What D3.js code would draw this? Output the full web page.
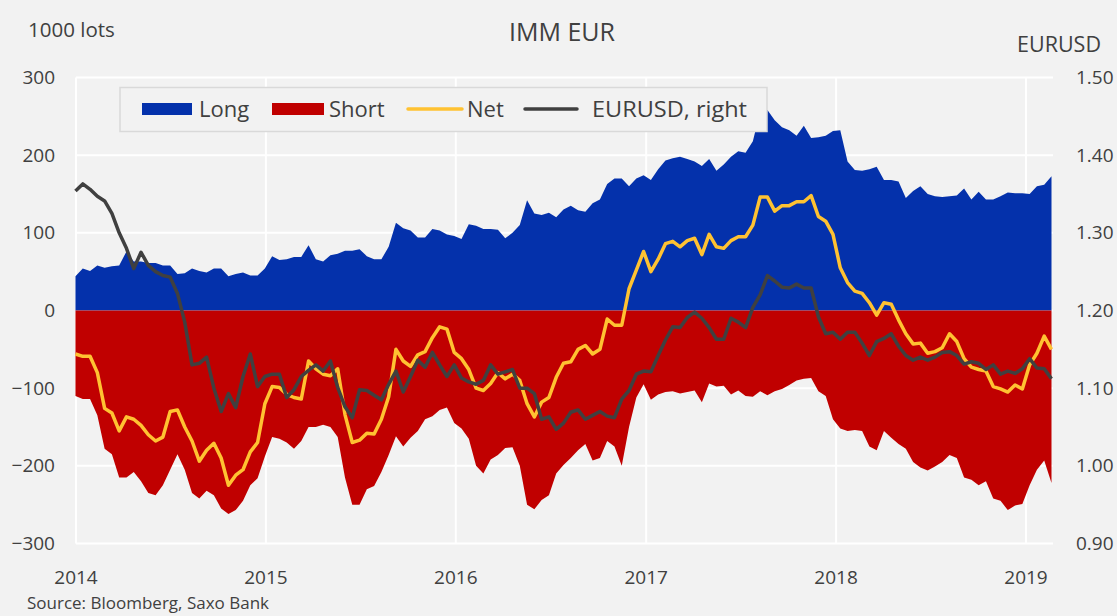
<!DOCTYPE html>
<html>
<head>
<meta charset="utf-8">
<script src="https://cdn.jsdelivr.net/npm/d3@7/dist/d3.min.js"></script>
<style>
  html, body { margin: 0; padding: 0; background: #f2f2f2; }
  svg { display: block; }
  text { font-family: "Open Sans", "Noto Sans", sans-serif; fill: #404040; }
</style>
</head>
<body>
<svg id="chart" width="1117" height="616"></svg>
<script>
// ---- data (biweekly COT observations, 1000 lots) ----
const startDate = "2013-12-31";
const stepDays = 14;

const longPos = [44,54,51,58,55,57,58,76,63,63,61,61,58,58,47,48,54,51,49,54,54,44,47,49,45,45,54,70,65,66,69,69,84,66,63,71,73,77,77,79,70,66,66,82,113,106,103,94,94,105,103,98,96,92,111,109,105,105,104,93,100,110,142,125,123,126,120,130,135,129,127,138,143,163,170,170,160,170,174,168,182,193,196,198,195,192,186,195,180,188,198,205,203,218,256,258,245,236,232,225,238,222,223,225,231,232,192,181,180,182,185,168,168,166,145,154,160,150,147,146,147,148,157,143,153,143,143,147,152,151,151,150,160,162,173];

const shortPos = [-110,-114,-114,-135,-178,-185,-215,-215,-208,-220,-235,-238,-225,-205,-185,-205,-235,-242,-232,-238,-255,-262,-257,-245,-225,-216,-188,-163,-165,-170,-178,-168,-150,-150,-147,-150,-163,-215,-250,-250,-230,-226,-208,-186,-162,-175,-164,-155,-140,-136,-128,-125,-145,-152,-165,-200,-210,-192,-186,-177,-176,-200,-250,-256,-244,-238,-210,-199,-190,-180,-172,-193,-190,-168,-175,-200,-150,-112,-95,-115,-108,-105,-104,-107,-105,-103,-118,-94,-98,-97,-108,-103,-110,-111,-104,-109,-104,-101,-96,-90,-88,-87,-104,-110,-140,-152,-155,-154,-155,-175,-180,-155,-164,-172,-178,-195,-202,-206,-201,-195,-186,-190,-215,-218,-225,-220,-242,-245,-257,-251,-249,-225,-205,-193,-222];

const netPos = [-56,-59,-59,-80,-126,-132,-155,-137,-140,-148,-160,-168,-163,-130,-128,-150,-168,-194,-180,-171,-190,-225,-212,-205,-182,-170,-120,-98,-99,-108,-112,-114,-65,-75,-82,-84,-75,-134,-170,-167,-158,-159,-140,-111,-50,-65,-72,-57,-53,-35,-21,-24,-54,-62,-76,-100,-103,-94,-80,-88,-82,-90,-120,-137,-118,-112,-86,-68,-66,-50,-45,-56,-50,-11,-19,-19,28,52,76,50,66,86,89,82,90,93,72,98,82,80,90,95,95,110,146,146,128,135,135,140,140,148,121,115,98,55,36,25,22,10,-6,10,8,-12,-30,-43,-42,-55,-53,-48,-30,-40,-62,-73,-76,-78,-98,-101,-105,-96,-101,-70,-55,-33,-50];

const eurusd = [1.354,1.363,1.356,1.347,1.341,1.325,1.300,1.280,1.254,1.275,1.258,1.250,1.245,1.243,1.222,1.185,1.130,1.132,1.140,1.100,1.070,1.093,1.075,1.115,1.144,1.102,1.115,1.118,1.118,1.088,1.098,1.115,1.123,1.130,1.122,1.135,1.101,1.076,1.062,1.098,1.097,1.091,1.085,1.105,1.122,1.095,1.115,1.136,1.127,1.146,1.130,1.115,1.130,1.113,1.108,1.105,1.110,1.130,1.118,1.121,1.124,1.100,1.100,1.093,1.060,1.063,1.047,1.055,1.069,1.072,1.060,1.065,1.070,1.064,1.062,1.086,1.097,1.118,1.122,1.121,1.142,1.162,1.179,1.178,1.191,1.198,1.190,1.178,1.163,1.163,1.190,1.185,1.178,1.204,1.220,1.245,1.238,1.230,1.229,1.234,1.229,1.229,1.192,1.170,1.172,1.163,1.172,1.172,1.158,1.142,1.160,1.164,1.170,1.154,1.142,1.136,1.140,1.136,1.140,1.146,1.147,1.142,1.131,1.134,1.132,1.124,1.130,1.118,1.122,1.119,1.125,1.138,1.126,1.125,1.112];

const leftTicks = [-300,-200,-100,0,100,200,300];
const rightTicks = [0.90,1.00,1.10,1.20,1.30,1.40,1.50];
const yearTicks = [2014,2015,2016,2017,2018,2019];

const seriesNames = ["Long","Short","Net","EURUSD, right"];
const colors = { long: "#0431ab", short: "#c00000", net: "#ffc232", fx: "#404040" };

// ---- build ----
const parse = d3.timeParse("%Y-%m-%d");
const t0 = parse(startDate);
const dates = longPos.map((_, i) => d3.timeDay.offset(t0, i * stepDays));

const svg = d3.select("#chart");
const plotLeft = 76, plotRight = 1053, plotTop = 77.5, plotBottom = 543.5;

const x = d3.scaleTime()
  .domain([new Date(2014,0,1), new Date(2019,0,1)])
  .range([76, 1026]);
const yL = d3.scaleLinear().domain([-300,300]).range([plotBottom, plotTop]);
const yR = d3.scaleLinear().domain([0.9,1.5]).range([plotBottom, plotTop]);

// grid
const grid = svg.append("g");
grid.selectAll("line.h").data(leftTicks).join("line")
  .attr("x1", plotLeft).attr("x2", plotRight)
  .attr("y1", d => yL(d)).attr("y2", d => yL(d))
  .attr("stroke", "#ffffff").attr("stroke-width", 2);
grid.selectAll("line.v").data(yearTicks).join("line")
  .attr("x1", d => x(new Date(d,0,1))).attr("x2", d => x(new Date(d,0,1)))
  .attr("y1", plotTop).attr("y2", plotBottom)
  .attr("stroke", "#ffffff").attr("stroke-width", 2);

// areas
const areaL = d3.area().x((d,i) => x(dates[i])).y0(yL(0)).y1(d => yL(d));
svg.append("path").datum(longPos).attr("d", areaL).attr("fill", colors.long);
svg.append("path").datum(shortPos).attr("d", areaL).attr("fill", colors.short);

// lines
const lineL = d3.line().x((d,i) => x(dates[i])).y(d => yL(d));
const lineR = d3.line().x((d,i) => x(dates[i])).y(d => yR(d));
svg.append("path").datum(netPos).attr("d", lineL)
  .attr("fill", "none").attr("stroke", colors.net).attr("stroke-width", 3.5)
  .attr("stroke-linejoin", "round");
svg.append("path").datum(eurusd).attr("d", lineR)
  .attr("fill", "none").attr("stroke", colors.fx).attr("stroke-width", 3.5)
  .attr("stroke-linejoin", "round");

// axes labels
svg.append("g").selectAll("text").data(leftTicks).join("text")
  .attr("x", 55).attr("y", d => yL(d)).attr("dy", "0.35em")
  .attr("text-anchor", "end").attr("font-size", 19)
  .text(d => d3.format("d")(d));
svg.append("g").selectAll("text").data(rightTicks).join("text")
  .attr("x", 1076).attr("y", d => yR(d)).attr("dy", "0.35em")
  .attr("text-anchor", "start").attr("font-size", 19)
  .text(d => d3.format(".2f")(d));
svg.append("g").selectAll("text").data(yearTicks).join("text")
  .attr("x", d => x(new Date(d,0,1))).attr("y", 577).attr("dy", "0.35em")
  .attr("text-anchor", "middle").attr("font-size", 19)
  .text(d => d);

// titles
svg.append("text").attr("x", 28).attr("y", 30).attr("dy","0.35em").attr("font-size", 20.5).text("1000 lots");
svg.append("text").attr("x", 562).attr("y", 32).attr("dy","0.35em").attr("text-anchor","middle").attr("font-size", 25).text("IMM EUR");
svg.append("text").attr("x", 1101).attr("y", 44).attr("dy","0.35em").attr("text-anchor","end").attr("font-size", 21.5).text("EURUSD");
svg.append("text").attr("x", 27).attr("y", 603).attr("dy","0.35em").attr("font-size", 17).text("Source: Bloomberg,  Saxo Bank");

// legend
const lg = svg.append("g");
lg.append("rect").attr("x", 120).attr("y", 87.5).attr("width", 647).attr("height", 44)
  .attr("fill", "#f2f2f2").attr("stroke", "#d9d9d9").attr("stroke-width", 1.5);
const ly = 109;
lg.append("rect").attr("x", 142).attr("y", ly-6).attr("width", 50).attr("height", 12).attr("fill", colors.long);
lg.append("text").attr("x", 199).attr("y", ly).attr("dy","0.35em").attr("font-size", 22).text(seriesNames[0]);
lg.append("rect").attr("x", 272).attr("y", ly-6).attr("width", 52).attr("height", 12).attr("fill", colors.short);
lg.append("text").attr("x", 329).attr("y", ly).attr("dy","0.35em").attr("font-size", 22).text(seriesNames[1]);
lg.append("line").attr("x1", 408).attr("x2", 462).attr("y1", ly).attr("y2", ly)
  .attr("stroke", colors.net).attr("stroke-width", 3.5).attr("stroke-linecap","round");
lg.append("text").attr("x", 467).attr("y", ly).attr("dy","0.35em").attr("font-size", 22).text(seriesNames[2]);
lg.append("line").attr("x1", 525).attr("x2", 577).attr("y1", ly).attr("y2", ly)
  .attr("stroke", colors.fx).attr("stroke-width", 3.5).attr("stroke-linecap","round");
lg.append("text").attr("x", 592).attr("y", ly).attr("dy","0.35em").attr("font-size", 22)
  .attr("textLength", 155).attr("lengthAdjust", "spacingAndGlyphs").text(seriesNames[3]);
</script>
</body>
</html>
